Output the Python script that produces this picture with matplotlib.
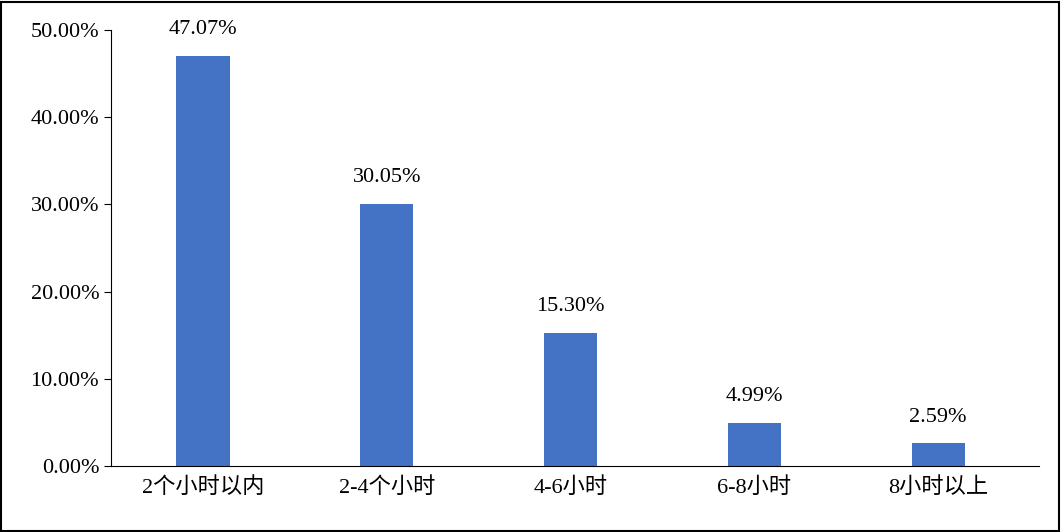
import matplotlib
matplotlib.use("Agg")
import matplotlib.pyplot as plt
from matplotlib.ticker import FuncFormatter

categories = ["2个小时以内", "2-4个小时", "4-6小时", "6-8小时", "8小时以上"]
values = [47.07, 30.05, 15.30, 4.99, 2.59]

plt.rcParams['font.family'] = ['Liberation Serif', 'Noto Sans CJK SC']
fig = plt.figure(figsize=(10.61, 5.32), dpi=100)
ax = fig.add_axes([0.1046, 0.124, 0.875, 0.8196])
x = range(len(categories))
ax.bar(x, values, width=0.29, color='#4472C4')
for i, v in zip(x, values):
    ax.text(i, v + 1.9, f"{v:.2f}%", ha='center', va='bottom', fontsize=16)
ax.set_xlim(-0.5, 4.55)
ax.set_ylim(0, 50)
ax.set_yticks([0, 10, 20, 30, 40, 50])
ax.yaxis.set_major_formatter(FuncFormatter(lambda v, p: f"{v:.2f}%"))
ax.set_xticks(list(x))
ax.set_xticklabels(categories)
ax.tick_params(axis='both', labelsize=16, colors='black', length=5)
ax.tick_params(axis='x', length=0, pad=8)
for s in ['top', 'right']:
    ax.spines[s].set_visible(False)
ax.spines['left'].set_color('black')
ax.spines['bottom'].set_color('black')
fig.patches.append(plt.Rectangle((0.001, 0.002), 0.997, 0.995, transform=fig.transFigure,
                                 fill=False, edgecolor='black', linewidth=1.5))
fig.savefig("out.png", dpi=100)
